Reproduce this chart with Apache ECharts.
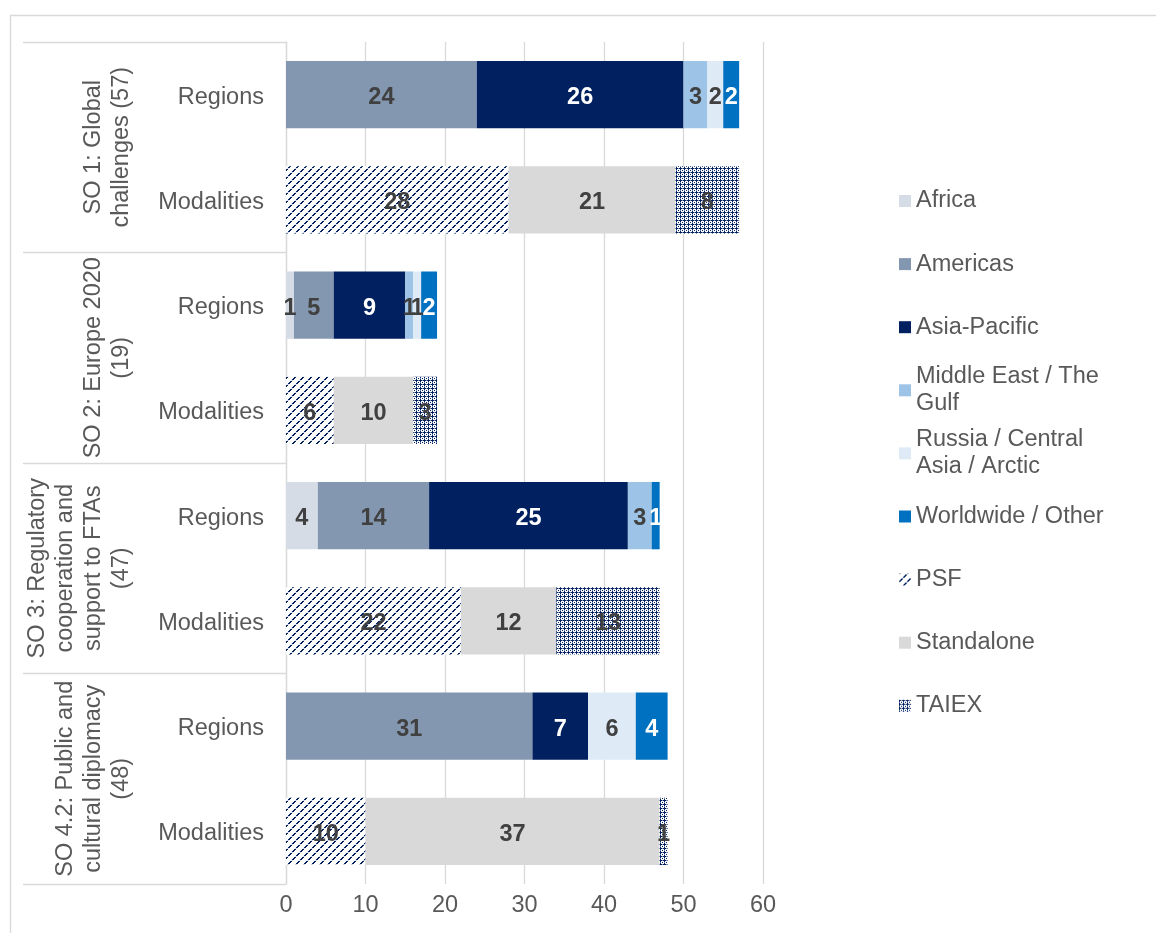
<!DOCTYPE html>
<html><head><meta charset="utf-8">
<script src="https://cdn.jsdelivr.net/npm/echarts@6/dist/echarts.min.js"></script>
<style>html,body{margin:0;padding:0;background:#fff}#c{width:1156px;height:933px}</style>
</head><body><div id="c"></div>
<script>
// ---- data ----
const categories = ['Regions','Modalities','Regions','Modalities','Regions','Modalities','Regions','Modalities'];
const groups = ['SO 1: Global\nchallenges (57)','SO 2: Europe 2020\n(19)','SO 3: Regulatory\ncooperation and\nsupport to FTAs\n(47)','SO 4.2: Public and\ncultural diplomacy\n(48)'];
const xTicks = [0,10,20,30,40,50,60];
const africa      = [null,null,1,null,4,null,null,null];
const americas    = [24,null,5,null,14,null,31,null];
const asiaPacific = [26,null,9,null,25,null,7,null];
const middleEast  = [3,null,1,null,3,null,null,null];
const russia      = [2,null,1,null,null,null,6,null];
const worldwide   = [2,null,2,null,1,null,4,null];
const psf         = [null,28,null,6,null,22,null,10];
const standalone  = [null,21,null,10,null,12,null,37];
const taiex       = [null,8,null,3,null,13,null,1];

// ---- patterns ----
function psfPattern(){
  const c=document.createElement('canvas');c.width=8;c.height=8;const g=c.getContext('2d');
  g.fillStyle='#fff';g.fillRect(0,0,8,8);
  for(let k=0;k<8;k++){
    g.fillStyle=(k%4===3)?'#c8d0e0':'#002060';
    const x=k,y=7-k;
    g.fillRect(x,y,2,1); g.fillRect(x-8,y,2,1);
  }
  return {image:c,repeat:'repeat'};
}
function taiexPattern(){
  const c=document.createElement('canvas');c.width=4;c.height=4;const g=c.getContext('2d');
  g.fillStyle='#ffffff';g.fillRect(0,0,4,4);
  g.fillStyle='#002060';
  g.fillRect(0,0,4,1);g.fillRect(0,0,1,4);g.fillRect(2,2,1,1);
  g.fillStyle='#7f90b4';g.fillRect(2,0,1,1);g.fillRect(0,2,1,1);
  return {image:c,repeat:'repeat'};
}

const FONT='Liberation Sans';
const FS=23.5;
const dark='#404040';
const seriesDefs=[
  {name:'Africa',data:africa,color:'#D6DCE5',lc:dark},
  {name:'Americas',data:americas,color:'#8497B0',lc:dark},
  {name:'Asia-Pacific',data:asiaPacific,color:'#002060',lc:'#ffffff'},
  {name:'Middle East / The Gulf',data:middleEast,color:'#9DC3E6',lc:dark},
  {name:'Russia / Central Asia / Arctic',data:russia,color:'#DEEBF7',lc:dark},
  {name:'Worldwide / Other',data:worldwide,color:'#0070C0',lc:'#ffffff'},
  {name:'PSF',data:psf,color:psfPattern(),lc:dark},
  {name:'Standalone',data:standalone,color:'#D9D9D9',lc:dark},
  {name:'TAIEX',data:taiex,color:taiexPattern(),lc:dark}
];
const legendText={
  'Middle East / The Gulf':'Middle East / The\nGulf',
  'Russia / Central Asia / Arctic':'Russia / Central\nAsia / Arctic'
};
const LH=27;
const legends=seriesDefs.map((s,i)=>{
  const c=201+i*63.1;
  const two=!!legendText[s.name];
  return {
    data:[s.name],orient:'vertical',left:899,top:two?c-LH*1.5:c-LH/2,padding:0,
    itemWidth:12,itemHeight:12,itemGap:0,icon:'rect',
    formatter:n=>legendText[n]||n,
    textStyle:{fontFamily:FONT,fontSize:FS,color:'#595959',lineHeight:LH,padding:two?[LH,0,0,0]:0}
  };
});

const chart=echarts.init(document.getElementById('c'));
chart.setOption({
  animation:false,
  backgroundColor:'#fff',
  graphic:[{type:'rect',left:8,top:13,shape:{width:1200,height:1000},style:{fill:'none',stroke:'#D9D9D9',lineWidth:1.3},silent:true,z:-10}],
  legend:legends,
  grid:{left:286,right:393,top:42,bottom:49,containLabel:false},
  xAxis:{type:'value',min:xTicks[0],max:xTicks[xTicks.length-1],interval:xTicks[1]-xTicks[0],
    axisLine:{show:false},axisTick:{show:false},
    splitLine:{lineStyle:{color:'#D9D9D9',width:1.3}},
    axisLabel:{fontFamily:FONT,fontSize:FS,color:'#595959',margin:10}},
  yAxis:[
    {type:'category',data:categories,inverse:true,
      axisLine:{lineStyle:{color:'#D9D9D9',width:1.3}},axisTick:{show:false},
      axisLabel:{fontFamily:FONT,fontSize:FS,color:'#595959',margin:22,interval:0,
        formatter:v=>'{a|'+v+'}',rich:{a:{fontFamily:FONT,fontSize:FS,color:'#595959',padding:[5,0,0,0]}}}},
    {type:'category',data:groups,inverse:true,position:'left',
      axisLine:{show:false},
      axisTick:{show:true,length:263,interval:0,lineStyle:{color:'#D9D9D9',width:1.3}},
      axisLabel:{fontFamily:FONT,fontSize:FS,color:'#595959',rotate:90,margin:150,interval:0,lineHeight:28}}
  ],
  series:seriesDefs.map(s=>({
    name:s.name,type:'bar',stack:'all',yAxisIndex:0,data:s.data,barCategoryGap:'36%',
    itemStyle:{color:s.color},
    label:{show:true,position:'inside',offset:[0,3],fontFamily:FONT,fontSize:FS,fontWeight:'bold',color:s.lc},
    emphasis:{disabled:true}
  }))
});
</script></body></html>
